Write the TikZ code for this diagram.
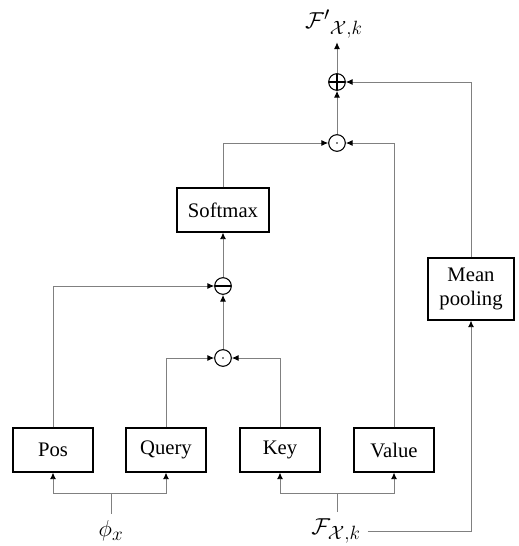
\documentclass[tikz,border=0pt]{standalone}
\usepackage{fontspec}
\setmainfont{Liberation Serif}
\usetikzlibrary{arrows.meta}
\usetikzlibrary{positioning}
\tikzset{block/.style={draw, line width=0.8pt, minimum width=60pt, minimum height=33pt, inner sep=2pt}}
\tikzset{op/.style={circle, draw, line width=0.8pt, minimum size=12.5pt, inner sep=0pt}}
\tikzset{dotop/.style={op, path picture={\fill (path picture bounding box.center) circle (0.7pt);}}}
\tikzset{minusop/.style={op, path picture={\draw[line width=1.2pt] (path picture bounding box.west) -- (path picture bounding box.east);}}}
\tikzset{plusop/.style={op, path picture={\draw[line width=0.8pt] (path picture bounding box.west) -- (path picture bounding box.east)
        (path picture bounding box.north) -- (path picture bounding box.south);}}}
\tikzset{label/.style={font=\fontsize{19}{23}\selectfont, inner sep=1pt}}
\tikzset{link/.style={draw=gray, line width=0.7pt}}
\tikzset{arr/.style={link, -{Latex[length=5pt,width=4.5pt,color=black]}}}

\begin{document}
\begin{tikzpicture}[x=0.75pt, y=-0.75pt, font=\fontsize{15.5}{18}\selectfont]
    \useasboundingbox (0,0) rectangle (518,546);
    % input projections
    \node[block] (pos) at (53,450) {Pos};
    \node[block] (query) at (166,450) {Query};
    \node[block] (key) at (280,450) {Key};
    \node[block] (value) at (394,450) {Value};
    \node[block, minimum width=69pt] (softmax) at (223,210) {Softmax};
    \node[block, minimum width=64.5pt, minimum height=46.5pt, align=center] (pool) at (471,289) {Mean\\pooling};
    % operators
    \node[dotop] (mulqk) at (223,358) {};
    \node[minusop] (subpos) at (223,286) {};
    \node[dotop] (mulv) at (337,143) {};
    \node[plusop] (add) at (337,82) {};
    % labels
    \node[label] (phi) at (111,531) {$\phi_x$};
    \node[label] (feat) at (336,531) {$\mathcal{F}_{\mathcal{X},k}$};
    \node[label] (out) at (334,24) {$\mathcal{F}'{}_{\mathcal{X},k}$};
    \coordinate (phij) at (111,493);
    \coordinate (featj) at (337,493);

    \draw[link, shorten <=4pt] (phi.north) -- (phij);
    \draw[arr] (phij) -| (pos.south);
    \draw[arr] (phij) -| (query.south);
    \draw[link, shorten <=4pt] (feat.north -| featj) -- (featj);
    \draw[arr] (featj) -| (key.south);
    \draw[arr] (featj) -| (value.south);
    \draw[arr] ([xshift=4pt]feat.east) -| (pool.south);

    \draw[arr] (query.north) |- (mulqk.west);
    \draw[arr] (key.north) |- (mulqk.east);
    \draw[arr] (mulqk) -- (subpos);
    \draw[arr] (pos.north) |- (subpos.west);
    \draw[arr] (subpos) -- (softmax);
    \draw[arr] (softmax.north) |- (mulv.west);
    \draw[arr] (value.north) |- (mulv.east);
    \draw[arr] (mulv) -- (add);
    \draw[arr] (pool.north) |- (add.east);
    \draw[arr, shorten >=2pt] (add) -- (out.south -| add);
\end{tikzpicture}
\end{document}
